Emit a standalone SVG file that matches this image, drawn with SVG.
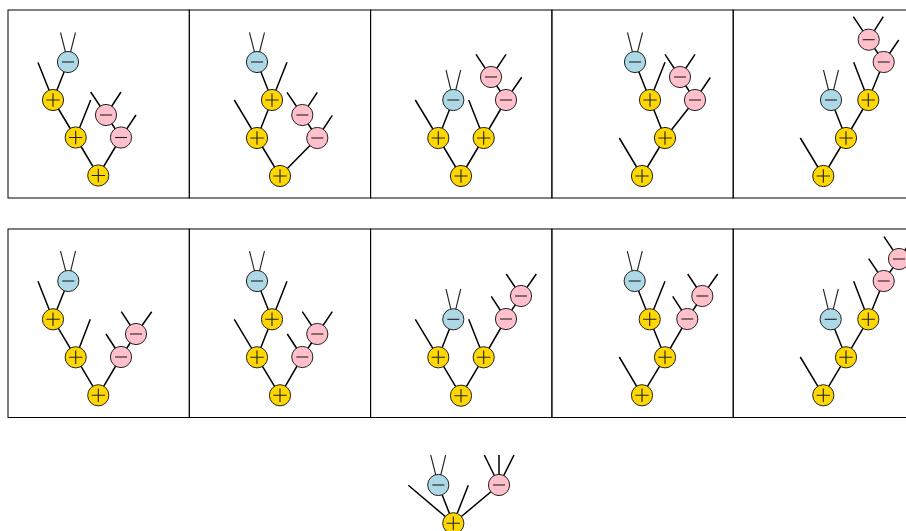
<svg xmlns="http://www.w3.org/2000/svg" xmlns:xlink="http://www.w3.org/1999/xlink" width="906" height="531" viewBox="0 0 906 531">
<style>
.frame{fill:none;stroke:#000;stroke-width:1}
.e{stroke:#000;stroke-width:1.5;fill:none;stroke-linecap:butt}
.t{stroke:#222;stroke-width:1.1;fill:none}
.cy{fill:#FFD700;stroke:#222;stroke-width:1}
.cb{fill:#ADD8E6;stroke:#222;stroke-width:1}
.cp{fill:#FFC0CB;stroke:#222;stroke-width:1}
.s{stroke:#222;stroke-width:1.1;fill:none}
</style>
<defs>
<g id="yp"><circle class="cy" r="10.6"/><path class="s" d="M-6.7 0H6.7M0-6.7V6.7"/></g>
<g id="bm"><circle class="cb" r="10.6"/><path class="s" d="M-6 0H6"/></g>
<g id="pm"><circle class="cp" r="10.6"/><path class="s" d="M-6 0H6"/></g>
</defs>
<rect width="906" height="531" fill="#fff"/>
<g id="frames">
<rect class="frame" x="8" y="10" width="181.3" height="188"/>
<rect class="frame" x="189.3" y="10" width="181.3" height="188"/>
<rect class="frame" x="370.6" y="10" width="181.3" height="188"/>
<rect class="frame" x="551.9" y="10" width="181.3" height="188"/>
<rect class="frame" x="733.2" y="10" width="181.3" height="188"/>
<rect class="frame" x="8" y="229" width="181.3" height="188.5"/>
<rect class="frame" x="189.3" y="229" width="181.3" height="188.5"/>
<rect class="frame" x="370.6" y="229" width="181.3" height="188.5"/>
<rect class="frame" x="551.9" y="229" width="181.3" height="188.5"/>
<rect class="frame" x="733.2" y="229" width="181.3" height="188.5"/>
</g>
<g id="connectors">
<path class="e" d="M98.3 175.5L75.7 137.5M98.3 175.5L121 137.5M75.7 137.5L53 100M53 100L68 62M106 115L121 137.5M53 100L38 62.5M75.7 137.5L90.7 100M106 115L90.7 92M106 115L121 92M121 137.5L136 115"/>
<path class="t" d="M68 62L60.5 32.5M68 62L75.5 32.5"/>
<path class="e" d="M280 176L257 138M280 176L317.3 138M257 138L272 100M272 100L257 62M317.3 138L302.3 115M272 100L287 62.3M257 138L234.3 100M302.3 115L287 92.3M302.3 115L317.3 92.3M317.3 138L332.3 115.3"/>
<path class="t" d="M257 62L249.5 32.5M257 62L264.5 32.5"/>
<path class="e" d="M461 176L438.3 138M461 176L483.7 138M438.3 138L453.3 100M483.7 138L506 100M506 100L491 77M438.3 138L415.3 100M483.7 138L468.7 100M491 77L476 54.3M491 77L506 54.3M506 100L521.7 77.3"/>
<path class="t" d="M453.3 100L446 70M453.3 100L460.7 70"/>
<path class="e" d="M642 176L665 138M665 138L650 100M650 100L635 62M665 138L695 100M695 100L680 77M642 176L619.3 138M650 100L665 62.3M680 77L665 54.3M680 77L695 54.3M695 100L710.3 77.5"/>
<path class="t" d="M635 62L627.5 32.5M635 62L642.5 32.5"/>
<path class="e" d="M823.3 176L846 138M846 138L831 100M846 138L868.3 100M868.3 100L883.7 62M883.7 62L868.7 39.7M823.3 176L800.3 138M868.3 100L853.7 62.3M868.7 39.7L853.3 16.7M868.7 39.7L883.3 16.7M883.7 62L898.7 40"/>
<path class="t" d="M831 100L823.5 70M831 100L838.5 70"/>
<path class="e" d="M98.3 395.3L75.7 357.3M98.3 395.3L121 357M75.7 357.3L53 319.3M53 319.3L68.3 281M121 357L136 334M53 319.3L38 281.3M75.7 357.3L90.3 319.3M121 357L106 334M136 334L121.3 311.7M136 334L151.7 311.7"/>
<path class="t" d="M68.3 281L60.5 251M68.3 281L75.5 251"/>
<path class="e" d="M280 395.3L257 357.3M280 395.3L302.3 357M257 357.3L272 319.3M272 319.3L257 281M302.3 357L317.3 334M272 319.3L287 281.3M257 357.3L234.3 319.3M302.3 357L287.3 334M317.3 334L302.3 311.7M317.3 334L332.3 311.7"/>
<path class="t" d="M257 281L249.5 251M257 281L264.5 251"/>
<path class="e" d="M461 395.7L438.3 357.3M461 395.7L483.7 357.3M438.3 357.3L453.3 319.3M483.7 357.3L506 319M506 319L521 296M438.3 357.3L415.3 319.3M483.7 357.3L468.7 319.3M506 319L491.3 296.3M521 296L506.3 274M521 296L536.3 274"/>
<path class="t" d="M453.3 319.3L446 289M453.3 319.3L460.7 289"/>
<path class="e" d="M642 395.3L665 357.3M665 357.3L649.7 319.3M649.7 319.3L634.7 281M665 357.3L687.3 319M687.3 319L702.3 296M642 395.3L619.3 357M649.7 319.3L665 281.3M687.3 319L672.7 296.3M702.3 296L687.7 274M702.3 296L717.7 274"/>
<path class="t" d="M634.7 281L627.3 251M634.7 281L642.3 251"/>
<path class="e" d="M823.3 395.3L846 357.3M846 357.3L830.7 319.3M846 357.3L868.3 319.3M868.3 319.3L883.7 281M883.7 281L899 259M823.3 395.3L800.3 357M868.3 319.3L853.7 281.3M883.7 281L868.7 258.7M899 259L884 236.7M899 259L914 236.7"/>
<path class="t" d="M830.7 319.3L823.3 289M830.7 319.3L838.3 289"/>
<path class="e" d="M453.3 523.3L438.3 485M453.3 523.3L499 485M453.3 523.3L408.3 485.3M453.3 523.3L468.3 485.3M499 485L484.3 455M499 485L499 455M499 485L514 455"/>
<path class="t" d="M438.3 485L430.7 455M438.3 485L445.7 455"/>
</g>
<g id="p1">
<g id="p1-root"><use xlink:href="#yp" x="98.3" y="175.5"/></g>
<g id="p1-y2"><use xlink:href="#yp" x="75.7" y="137.5"/></g>
<g id="p1-y3"><use xlink:href="#yp" x="53" y="100"/></g>
<g id="p1-b"><use xlink:href="#bm" x="68" y="62"/></g>
<g id="p1-p1"><use xlink:href="#pm" x="121" y="137.5"/></g>
<g id="p1-p2"><use xlink:href="#pm" x="106" y="115"/></g>
</g>
<g id="p2">
<g id="p2-root"><use xlink:href="#yp" x="280" y="176"/></g>
<g id="p2-y2"><use xlink:href="#yp" x="257" y="138"/></g>
<g id="p2-y3"><use xlink:href="#yp" x="272" y="100"/></g>
<g id="p2-b"><use xlink:href="#bm" x="257" y="62"/></g>
<g id="p2-p1"><use xlink:href="#pm" x="317.3" y="138"/></g>
<g id="p2-p2"><use xlink:href="#pm" x="302.3" y="115"/></g>
</g>
<g id="p3">
<g id="p3-root"><use xlink:href="#yp" x="461" y="176"/></g>
<g id="p3-y2"><use xlink:href="#yp" x="438.3" y="138"/></g>
<g id="p3-y3"><use xlink:href="#yp" x="483.7" y="138"/></g>
<g id="p3-b"><use xlink:href="#bm" x="453.3" y="100"/></g>
<g id="p3-p1"><use xlink:href="#pm" x="506" y="100"/></g>
<g id="p3-p2"><use xlink:href="#pm" x="491" y="77"/></g>
</g>
<g id="p4">
<g id="p4-root"><use xlink:href="#yp" x="642" y="176"/></g>
<g id="p4-y2"><use xlink:href="#yp" x="665" y="138"/></g>
<g id="p4-y3"><use xlink:href="#yp" x="650" y="100"/></g>
<g id="p4-b"><use xlink:href="#bm" x="635" y="62"/></g>
<g id="p4-p1"><use xlink:href="#pm" x="695" y="100"/></g>
<g id="p4-p2"><use xlink:href="#pm" x="680" y="77"/></g>
</g>
<g id="p5">
<g id="p5-root"><use xlink:href="#yp" x="823.3" y="176"/></g>
<g id="p5-y2"><use xlink:href="#yp" x="846" y="138"/></g>
<g id="p5-y3"><use xlink:href="#yp" x="868.3" y="100"/></g>
<g id="p5-b"><use xlink:href="#bm" x="831" y="100"/></g>
<g id="p5-p1"><use xlink:href="#pm" x="883.7" y="62"/></g>
<g id="p5-p2"><use xlink:href="#pm" x="868.7" y="39.7"/></g>
</g>
<g id="p6">
<g id="p6-root"><use xlink:href="#yp" x="98.3" y="395.3"/></g>
<g id="p6-y2"><use xlink:href="#yp" x="75.7" y="357.3"/></g>
<g id="p6-y3"><use xlink:href="#yp" x="53" y="319.3"/></g>
<g id="p6-b"><use xlink:href="#bm" x="68.3" y="281"/></g>
<g id="p6-p1"><use xlink:href="#pm" x="121" y="357"/></g>
<g id="p6-p2"><use xlink:href="#pm" x="136" y="334"/></g>
</g>
<g id="p7">
<g id="p7-root"><use xlink:href="#yp" x="280" y="395.3"/></g>
<g id="p7-y2"><use xlink:href="#yp" x="257" y="357.3"/></g>
<g id="p7-y3"><use xlink:href="#yp" x="272" y="319.3"/></g>
<g id="p7-b"><use xlink:href="#bm" x="257" y="281"/></g>
<g id="p7-p1"><use xlink:href="#pm" x="302.3" y="357"/></g>
<g id="p7-p2"><use xlink:href="#pm" x="317.3" y="334"/></g>
</g>
<g id="p8">
<g id="p8-root"><use xlink:href="#yp" x="461" y="395.7"/></g>
<g id="p8-y2"><use xlink:href="#yp" x="438.3" y="357.3"/></g>
<g id="p8-y3"><use xlink:href="#yp" x="483.7" y="357.3"/></g>
<g id="p8-b"><use xlink:href="#bm" x="453.3" y="319.3"/></g>
<g id="p8-p1"><use xlink:href="#pm" x="506" y="319"/></g>
<g id="p8-p2"><use xlink:href="#pm" x="521" y="296"/></g>
</g>
<g id="p9">
<g id="p9-root"><use xlink:href="#yp" x="642" y="395.3"/></g>
<g id="p9-y2"><use xlink:href="#yp" x="665" y="357.3"/></g>
<g id="p9-y3"><use xlink:href="#yp" x="649.7" y="319.3"/></g>
<g id="p9-b"><use xlink:href="#bm" x="634.7" y="281"/></g>
<g id="p9-p1"><use xlink:href="#pm" x="687.3" y="319"/></g>
<g id="p9-p2"><use xlink:href="#pm" x="702.3" y="296"/></g>
</g>
<g id="p10">
<g id="p10-root"><use xlink:href="#yp" x="823.3" y="395.3"/></g>
<g id="p10-y2"><use xlink:href="#yp" x="846" y="357.3"/></g>
<g id="p10-y3"><use xlink:href="#yp" x="868.3" y="319.3"/></g>
<g id="p10-b"><use xlink:href="#bm" x="830.7" y="319.3"/></g>
<g id="p10-p1"><use xlink:href="#pm" x="883.7" y="281"/></g>
<g id="p10-p2"><use xlink:href="#pm" x="899" y="259"/></g>
</g>
<g id="bottom">
<g id="bt-root"><use xlink:href="#yp" x="453.3" y="523.3"/></g>
<g id="bt-b"><use xlink:href="#bm" x="438.3" y="485"/></g>
<g id="bt-p"><use xlink:href="#pm" x="499" y="485"/></g>
</g>
</svg>
